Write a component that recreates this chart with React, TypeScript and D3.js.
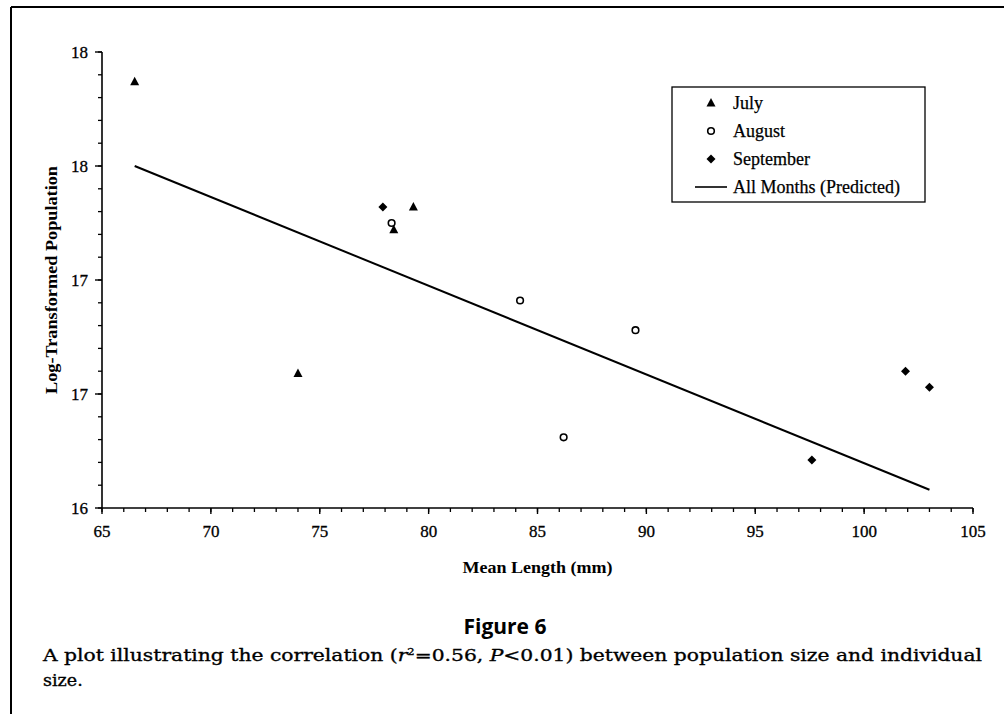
import React from "react";
import { scaleLinear, range, line } from "d3";

// values
const julyLength = [66.5, 79.3, 78.4, 74.0];
const julyPop = [17.87, 17.32, 17.22, 16.59];
const augustLength = [78.3, 84.2, 89.5, 86.2];
const augustPop = [17.25, 16.91, 16.78, 16.31];
const septemberLength = [77.9, 97.6, 101.9, 103.0];
const septemberPop = [17.32, 16.21, 16.6, 16.53];
const predictedLength = [66.5, 103.0];
const predictedPop = [17.5, 16.08];

const xTicks = [65, 70, 75, 80, 85, 90, 95, 100, 105];
const yTicks = [16, 16.5, 17, 17.5, 18];
const yTickLabels = ["16", "17", "17", "18", "18"];
const legendLabels = ["July", "August", "September", "All Months (Predicted)"];

const W = 1004;
const H = 714;
const margin = { left: 102, right: 31, top: 52, bottom: 206 };

const serif = "'Liberation Serif', 'Times New Roman', serif";

const Marker = ({ kind, x, y }: { kind: string; x: number; y: number }) => {
  if (kind === "tri") {
    return (
      <path
        d={`M${x},${y - 5} L${x + 4.5},${y + 3.5} L${x - 4.5},${y + 3.5} Z`}
        fill="#000"
      />
    );
  }
  if (kind === "circle") {
    return <circle cx={x} cy={y} r={3.3} fill="#fff" stroke="#000" strokeWidth={1.6} />;
  }
  return (
    <path d={`M${x},${y - 4.5} L${x + 4.5},${y} L${x},${y + 4.5} L${x - 4.5},${y} Z`} fill="#000" />
  );
};

const App = () => {
  const x = scaleLinear()
    .domain([65, 105])
    .range([margin.left, W - margin.right]);
  const y = scaleLinear()
    .domain([16, 18])
    .range([H - margin.bottom, margin.top]);

  const x0 = x(65);
  const y0 = y(16);

  const xMinor = range(65, 106, 1);
  const yMinor = range(0, 21).map((i) => 16 + i * 0.1);

  const series = [
    { kind: "tri", xs: julyLength, ys: julyPop },
    { kind: "circle", xs: augustLength, ys: augustPop },
    { kind: "diamond", xs: septemberLength, ys: septemberPop },
  ];

  const fit = line<number>()
    .x((d) => x(predictedLength[d]))
    .y((d) => y(predictedPop[d]));

  const legendX = 672;
  const legendY = 87;

  return (
    <svg
      width={W}
      height={H}
      style={{ position: "absolute", left: 0, top: 0, background: "#fff" }}
    >
      {/* page frame */}
      <line x1={11} y1={7} x2={W} y2={7} stroke="#000" strokeWidth={2} />
      <line x1={11} y1={7} x2={11} y2={H} stroke="#000" strokeWidth={2} />

      {/* y axis */}
      <line x1={x0} y1={y(18)} x2={x0} y2={y0} stroke="#000" strokeWidth={1.6} />
      {yMinor.map((v, i) => (
        <line key={"ym" + i} x1={x0 - 4} x2={x0} y1={y(v)} y2={y(v)} stroke="#000" strokeWidth={1.3} />
      ))}
      {yTicks.map((v, i) => (
        <g key={"yt" + i}>
          <line x1={x0 - 7} x2={x0} y1={y(v)} y2={y(v)} stroke="#000" strokeWidth={1.4} />
          <text
            x={x0 - 14}
            y={y(v)}
            dy="0.35em"
            textAnchor="end"
            fontFamily={serif}
            fontSize={17}
            stroke="#000"
            strokeWidth={0.3}
          >
            {yTickLabels[i]}
          </text>
        </g>
      ))}

      {/* x axis */}
      <line x1={x0} y1={y0} x2={x(105)} y2={y0} stroke="#000" strokeWidth={1.6} />
      {xMinor.map((v) => (
        <line key={"xm" + v} x1={x(v)} x2={x(v)} y1={y0} y2={y0 + 4} stroke="#000" strokeWidth={1.3} />
      ))}
      {xTicks.map((v) => (
        <g key={"xt" + v}>
          <line x1={x(v)} x2={x(v)} y1={y0} y2={y0 + 6} stroke="#000" strokeWidth={1.4} />
          <text
            x={x(v)}
            y={y0 + 29}
            textAnchor="middle"
            fontFamily={serif}
            fontSize={17}
            stroke="#000"
            strokeWidth={0.3}
          >
            {v}
          </text>
        </g>
      ))}

      {/* axis titles */}
      <text
        x={(x0 + x(105)) / 2}
        y={573}
        textAnchor="middle"
        fontFamily={serif}
        fontWeight="bold"
        fontSize={16}
        textLength={150}
        lengthAdjust="spacingAndGlyphs"
      >
        Mean Length (mm)
      </text>
      <text
        transform={`translate(57, ${(y(18) + y0) / 2}) rotate(-90)`}
        textAnchor="middle"
        fontFamily={serif}
        fontWeight="bold"
        fontSize={16.5}
        textLength={228}
        lengthAdjust="spacingAndGlyphs"
      >
        Log-Transformed Population
      </text>

      {/* regression line */}
      <path d={fit([0, 1]) || ""} fill="none" stroke="#000" strokeWidth={2} />

      {/* points */}
      {series.map((s) =>
        s.xs.map((v, i) => <Marker key={s.kind + i} kind={s.kind} x={x(v)} y={y(s.ys[i])} />)
      )}

      {/* legend */}
      <rect x={legendX} y={legendY} width={253} height={115} fill="#fff" stroke="#000" strokeWidth={1.3} />
      {legendLabels.map((lab, i) => {
        const ly = legendY + 16 + i * 28;
        return (
          <g key={lab}>
            {i < 3 ? (
              <Marker kind={series[i].kind} x={711} y={ly} />
            ) : (
              <line x1={695} x2={727} y1={ly} y2={ly} stroke="#000" strokeWidth={1.6} />
            )}
            <text
              x={733}
              y={ly}
              dy="0.35em"
              fontFamily={serif}
              fontSize={18}
              stroke="#000"
              strokeWidth={0.25}
            >
              {lab}
            </text>
          </g>
        );
      })}

      {/* caption */}
      <text
        x={505}
        y={634}
        textAnchor="middle"
        fontFamily="'Open Sans', sans-serif"
        fontWeight="bold"
        fontSize={21}
      >
        Figure 6
      </text>
      <text
        x={43}
        y={661}
        fontFamily="'DejaVu Serif', serif"
        fontSize={17.5}
        textLength={939}
        lengthAdjust="spacingAndGlyphs"
        stroke="#000"
        strokeWidth={0.35}
      >
        A plot illustrating the correlation (
        <tspan fontStyle="italic">r</tspan>
        <tspan dy={-6} fontSize={10}>2</tspan>
        <tspan dy={6}>=0.56, </tspan>
        <tspan fontStyle="italic">P</tspan>
        &lt;0.01) between population size and individual
      </text>
      <text
        x={43}
        y={686}
        fontFamily="'DejaVu Serif', serif"
        fontSize={17.5}
        stroke="#000"
        strokeWidth={0.35}
      >
        size.
      </text>
    </svg>
  );
};

export default App;
